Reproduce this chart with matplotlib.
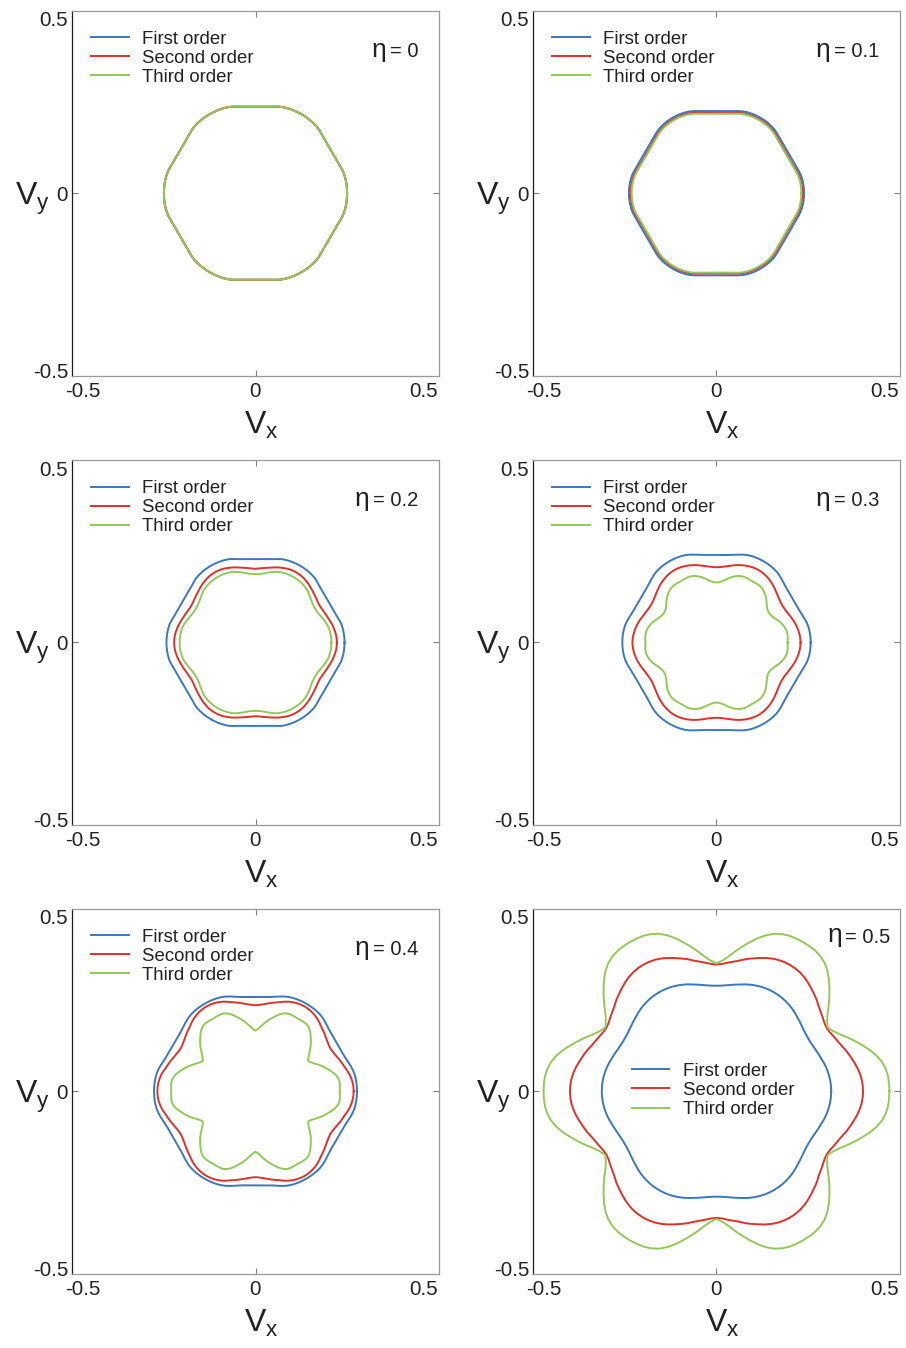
import numpy as np
import matplotlib
matplotlib.use("Agg")
import matplotlib.pyplot as plt
from matplotlib.transforms import ScaledTranslation

plt.rcParams['font.family'] = ['Liberation Sans', 'DejaVu Sans']
plt.rcParams['mathtext.fontset'] = 'custom'
plt.rcParams['mathtext.rm'] = 'Liberation Sans'
plt.rcParams['mathtext.it'] = 'Liberation Sans'

# Radii of the six-fold symmetric contours, tabulated every 2.5 degrees from a
# lobe direction (0 deg) to the mid-edge direction (30 deg); the rest of the
# contour follows from the mirror and six-fold symmetry.
PHI_STEP_DEG = 2.5

etas = ['0', '0.1', '0.2', '0.3', '0.4', '0.5']
order_labels = ['First order', 'Second order', 'Third order']
order_colors = ['#3b78c0', '#e0312b', '#93c95a']

r_eta0_first = [0.2500, 0.2499, 0.2497, 0.2492, 0.2484, 0.2472, 0.2455, 0.2430, 0.2407, 0.2390, 0.2379, 0.2372, 0.2370]
r_eta0_second = [0.2500, 0.2499, 0.2497, 0.2492, 0.2484, 0.2472, 0.2455, 0.2430, 0.2407, 0.2390, 0.2379, 0.2372, 0.2370]
r_eta0_third = [0.2500, 0.2499, 0.2497, 0.2492, 0.2484, 0.2472, 0.2455, 0.2430, 0.2407, 0.2390, 0.2379, 0.2372, 0.2370]

r_eta1_first = [0.2390, 0.2389, 0.2385, 0.2378, 0.2368, 0.2352, 0.2330, 0.2305, 0.2285, 0.2269, 0.2259, 0.2252, 0.2250]
r_eta1_second = [0.2340, 0.2339, 0.2335, 0.2328, 0.2318, 0.2302, 0.2280, 0.2255, 0.2232, 0.2215, 0.2204, 0.2198, 0.2195]
r_eta1_third = [0.2315, 0.2314, 0.2310, 0.2303, 0.2293, 0.2277, 0.2255, 0.2230, 0.2209, 0.2193, 0.2183, 0.2177, 0.2175]

r_eta2_first = [0.2430, 0.2429, 0.2425, 0.2418, 0.2408, 0.2395, 0.2368, 0.2339, 0.2320, 0.2304, 0.2294, 0.2287, 0.2285]
r_eta2_second = [0.2220, 0.2218, 0.2210, 0.2195, 0.2175, 0.2155, 0.2130, 0.2105, 0.2082, 0.2062, 0.2043, 0.2027, 0.2020]
r_eta2_third = [0.2070, 0.2070, 0.2065, 0.2058, 0.2047, 0.2030, 0.2005, 0.1975, 0.1945, 0.1915, 0.1890, 0.1878, 0.1873]

r_eta3_first = [0.2570, 0.2569, 0.2564, 0.2556, 0.2543, 0.2522, 0.2492, 0.2462, 0.2438, 0.2419, 0.2408, 0.2402, 0.2400]
r_eta3_second = [0.2295, 0.2290, 0.2280, 0.2265, 0.2245, 0.2222, 0.2195, 0.2165, 0.2135, 0.2105, 0.2085, 0.2068, 0.2062]
r_eta3_third = [0.1940, 0.1945, 0.1950, 0.1950, 0.1935, 0.1910, 0.1875, 0.1830, 0.1780, 0.1725, 0.1685, 0.1655, 0.1645]

r_eta4_first = [0.2770, 0.2769, 0.2764, 0.2755, 0.2741, 0.2718, 0.2687, 0.2652, 0.2622, 0.2601, 0.2589, 0.2582, 0.2580]
r_eta4_second = [0.2680, 0.2675, 0.2662, 0.2640, 0.2610, 0.2570, 0.2525, 0.2490, 0.2457, 0.2420, 0.2390, 0.2366, 0.2355]
r_eta4_third = [0.2300, 0.2305, 0.2310, 0.2305, 0.2270, 0.2210, 0.2130, 0.2050, 0.1970, 0.1880, 0.1790, 0.1710, 0.1660]

r_eta5_first = [0.3130, 0.3128, 0.3120, 0.3105, 0.3085, 0.3060, 0.3030, 0.2995, 0.2965, 0.2935, 0.2910, 0.2895, 0.2890]
r_eta5_second = [0.4000, 0.3993, 0.3972, 0.3935, 0.3885, 0.3825, 0.3765, 0.3707, 0.3635, 0.3580, 0.3535, 0.3490, 0.3470]
r_eta5_third = [0.4720, 0.4715, 0.4700, 0.4660, 0.4590, 0.4480, 0.4340, 0.4180, 0.4020, 0.3860, 0.3700, 0.3580, 0.3500]

panel_radii = [
    (r_eta0_first, r_eta0_second, r_eta0_third),
    (r_eta1_first, r_eta1_second, r_eta1_third),
    (r_eta2_first, r_eta2_second, r_eta2_third),
    (r_eta3_first, r_eta3_second, r_eta3_third),
    (r_eta4_first, r_eta4_second, r_eta4_third),
    (r_eta5_first, r_eta5_second, r_eta5_third),
]

tick_values = [-0.5, 0, 0.5]
tick_texts = ['-0.5', '0', '0.5']


def closed_contour(half_period):
    """Unfold the 0-30 deg radii into a closed curve using the contour symmetry."""
    half = np.asarray(half_period)
    period = np.concatenate([half, half[-2:0:-1]])
    r = np.tile(period, 6)
    theta = np.deg2rad(np.arange(r.size) * PHI_STEP_DEG)
    x = r * np.cos(theta)
    y = r * np.sin(theta)
    return np.append(x, x[0]), np.append(y, y[0])


fig = plt.figure(figsize=(9.06, 13.48), dpi=100)
W, H = 906.0, 1348.0
ax_w, ax_h = 366.4, 365.0
col_left = [72.3, 533.3]
row_top = [10.7, 460.0, 908.7]

text_color = '#222222'
fs_leg = 13.4
fs_tick = 14.8

for i, eta in enumerate(etas):
    row, col = divmod(i, 2)
    left = col_left[col]
    top = row_top[row]
    ax = fig.add_axes([left / W, 1 - (top + ax_h) / H, ax_w / W, ax_h / H])

    for radii, color, label in zip(panel_radii[i], order_colors, order_labels):
        x, y = closed_contour(radii)
        ax.plot(x, y, color=color, lw=1.4, label=label, solid_joinstyle='round')

    ax.set_xlim(-0.5, 0.5)
    ax.set_ylim(-0.5, 0.5)
    ax.set_xticks(tick_values)
    ax.set_yticks(tick_values)
    ax.set_xticklabels(tick_texts)
    ax.set_yticklabels(tick_texts)
    ax.tick_params(direction='in', length=4.3, width=0.8, color='#808080',
                   top=True, right=True, labelsize=fs_tick, labelcolor=text_color,
                   pad=3.0)
    ax.tick_params(axis='x', pad=4.5)

    for sname, sp in ax.spines.items():
        sp.set_linewidth(0.9)
        sp.set_color('#1e1e1e' if sname == 'left' else '#9a9a9a')

    # only the centre ticks carry tick marks
    for t in ax.xaxis.get_major_ticks() + ax.yaxis.get_major_ticks():
        if abs(t.get_loc()) > 0.25:
            t.tick1line.set_visible(False)
            t.tick2line.set_visible(False)

    # nudge the end tick labels inward
    xl = ax.get_xticklabels()
    yl = ax.get_yticklabels()
    shifts_x = [10.5, 0, -14.7]
    shifts_y = [5.7, 0, -8.3]
    for lab, dx in zip(xl, shifts_x):
        lab.set_transform(lab.get_transform() + ScaledTranslation(dx / 100, 0, fig.dpi_scale_trans))
    for lab, dy in zip(yl, shifts_y):
        lab.set_transform(lab.get_transform() + ScaledTranslation(0, dy / 100, fig.dpi_scale_trans))

    ax.text(0.515, -0.135, r'$\mathrm{V_x}$', transform=ax.transAxes,
            ha='center', va='center', fontsize=23, color=text_color)
    ax.text(-0.109, 0.4855, r'$\mathrm{V_y}$', transform=ax.transAxes,
            ha='center', va='center', fontsize=23, color=text_color)

    if eta == '0.5':
        eta_xy = (1 - 9 / ax_w, 1 - 28.6 / ax_h)
        leg_xy = ((632 - left) / ax_w, 0.5776)
    else:
        eta_xy = (1 - 20.5 / ax_w, 1 - 41 / ax_h)
        leg_xy = (19 / ax_w, 0.945)
    value_txt = ax.text(eta_xy[0], eta_xy[1], '= ' + eta, transform=ax.transAxes,
                        ha='right', va='center', fontsize=14.5, color=text_color)
    ax.annotate('η', xy=(0, 0.5), xycoords=value_txt, xytext=(-2.5, 1.5),
                textcoords='offset points', ha='right', va='center',
                fontsize=19, color=text_color)

    ax.legend(loc='upper left', bbox_to_anchor=leg_xy, frameon=False,
              fontsize=fs_leg, handlelength=2.0, handletextpad=0.74,
              labelspacing=0.11, borderpad=0, borderaxespad=0,
              labelcolor=text_color)

fig.savefig('out.png', dpi=100, facecolor='white')
